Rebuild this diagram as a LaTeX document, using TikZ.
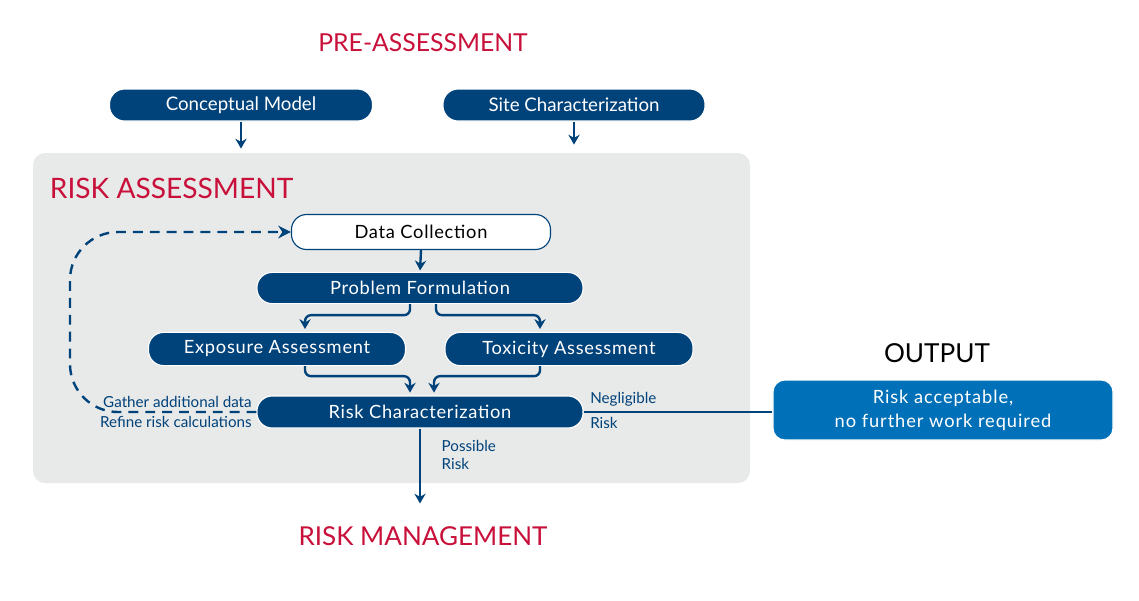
\documentclass[tikz,border=0pt]{standalone}
\usepackage{fontspec}
\setmainfont{Lato}
\usetikzlibrary{arrows.meta, calc}
\definecolor{raB}{RGB}{0,66,122}
\definecolor{raL}{RGB}{0,112,184}
\definecolor{raR}{RGB}{200,16,58}
\definecolor{raG}{RGB}{232,233,233}
\tikzset{
  pill/.style={draw=white, line width=0.8pt, fill=raB, text=white, rounded corners=0.38cm,
    minimum height=0.8cm, inner sep=0pt, font=\fontsize{13.3}{15}\selectfont},
  spaced/.style={font=\fontsize{13}{15}\selectfont\addfontfeature{LetterSpace=4}},
  conn/.style={draw=raB, line width=1.7pt, -{Stealth[length=7pt, width=8pt]}},
  sect/.style={text=raR, font=\fontsize{17.6}{22}\selectfont},
  lbl/.style={text=raB, font=\fontsize{10.8}{13}\selectfont, inner sep=1pt}
}

\begin{document}
\begin{tikzpicture}[x=0.025cm, y=-0.025cm]
\useasboundingbox (0,0) rectangle (1139,600);
% ===== pre-assessment =====
\node[sect] (pre) at (423,43) {PRE-ASSESSMENT};
\node[pill, minimum width=6.575cm] (cm) at (241,105) {Conceptual Model};
\node[pill, minimum width=6.55cm] (sc) at (574,105) {Site Characterization};
% ===== risk assessment panel =====
\fill[raG, rounded corners=0.3cm] (33,153) rectangle (750,483);
\draw[conn] (cm.south) -- ++(0,27);
\draw[conn] (sc.south) -- ++(0,23);
\node[sect, anchor=west, font=\fontsize{20}{24}\selectfont] (ra) at (45,188) {RISK ASSESSMENT};
\node[pill, spaced, fill=white, draw=raB, text=black, minimum width=6.475cm, minimum height=0.875cm] (dc) at (421,232) {Data Collection};
\node[pill, spaced, minimum width=8.15cm, minimum height=0.78cm] (pf) at (420,288) {Problem Formulation};
\node[pill, spaced, minimum width=6.425cm, minimum height=0.83cm] (ea) at (277,349) {Exposure Assessment};
\node[pill, spaced, minimum width=6.2cm, minimum height=0.83cm] (ta) at (569,349) {Toxicity Assessment};
\node[pill, spaced, minimum width=8.15cm] (rc) at (420,412) {Risk Characterization};
% flow inside the panel
\draw[conn, shorten >=1pt] (dc.south) -- (pf.north);
\draw[conn, rounded corners=0.15cm, shorten >=2pt] ($(pf.south)+(-10,0)$) -- ++(0,11) -| ($(ea.north)+(28,0)$);
\draw[conn, rounded corners=0.15cm, shorten >=2pt] ($(pf.south)+(16,0)$) -- ++(0,11) -| ($(ta.north)+(-29,0)$);
\draw[conn, rounded corners=0.15cm, shorten >=2pt] ($(ea.south)+(28,0)$) -- ++(0,10) -| ($(rc.north)+(-10,0)$);
\draw[conn, rounded corners=0.15cm, shorten >=2pt] ($(ta.south)+(-29,0)$) -- ++(0,10) -| ($(rc.north)+(14,0)$);
% feedback loop
\draw[raB, line width=1.7pt, dash pattern=on 7pt off 5pt, rounded corners=1.2cm,
  -{Stealth[length=9pt, width=9pt]}] (rc.west) -| (70,232) -- (dc.west);
\node[lbl, anchor=south east] (gad) at ($(rc.west)+(-3,-3)$) {Gather additional data};
\node[lbl, anchor=north east] (rrc) at ($(rc.west)+(-3,3)$) {Refine risk calculations};
% ===== output =====
\node[font=\fontsize{18.6}{22}\selectfont] (out) at (937,353) {OUTPUT};
\node[pill, spaced, fill=raL, rounded corners=0.3cm, minimum width=8.5cm, minimum height=1.5cm,
  align=center, font=\fontsize{13}{17}\selectfont\addfontfeature{LetterSpace=5}] (acc) at (943,410) {Risk acceptable,\\no further work required};
\draw[raB, line width=1.7pt] (rc.east) -- (acc.west |- rc.east);
\node[lbl, anchor=south west] (negl) at ($(rc.east)+(5,-4)$) {Negligible};
\node[lbl, anchor=north west] (nrisk) at ($(rc.east)+(5,4)$) {Risk};
% ===== risk management =====
\node[sect, font=\fontsize{18.5}{22}\selectfont] (rm) at (423,536) {RISK MANAGEMENT};
\draw[conn, shorten >=0.45cm] (rc.south) -- (rc.south |- rm.north);
\node[lbl, anchor=north west, align=left] (prisk) at ($(rc.south)+(20,10)$) {Possible\\Risk};
\end{tikzpicture}
\end{document}
